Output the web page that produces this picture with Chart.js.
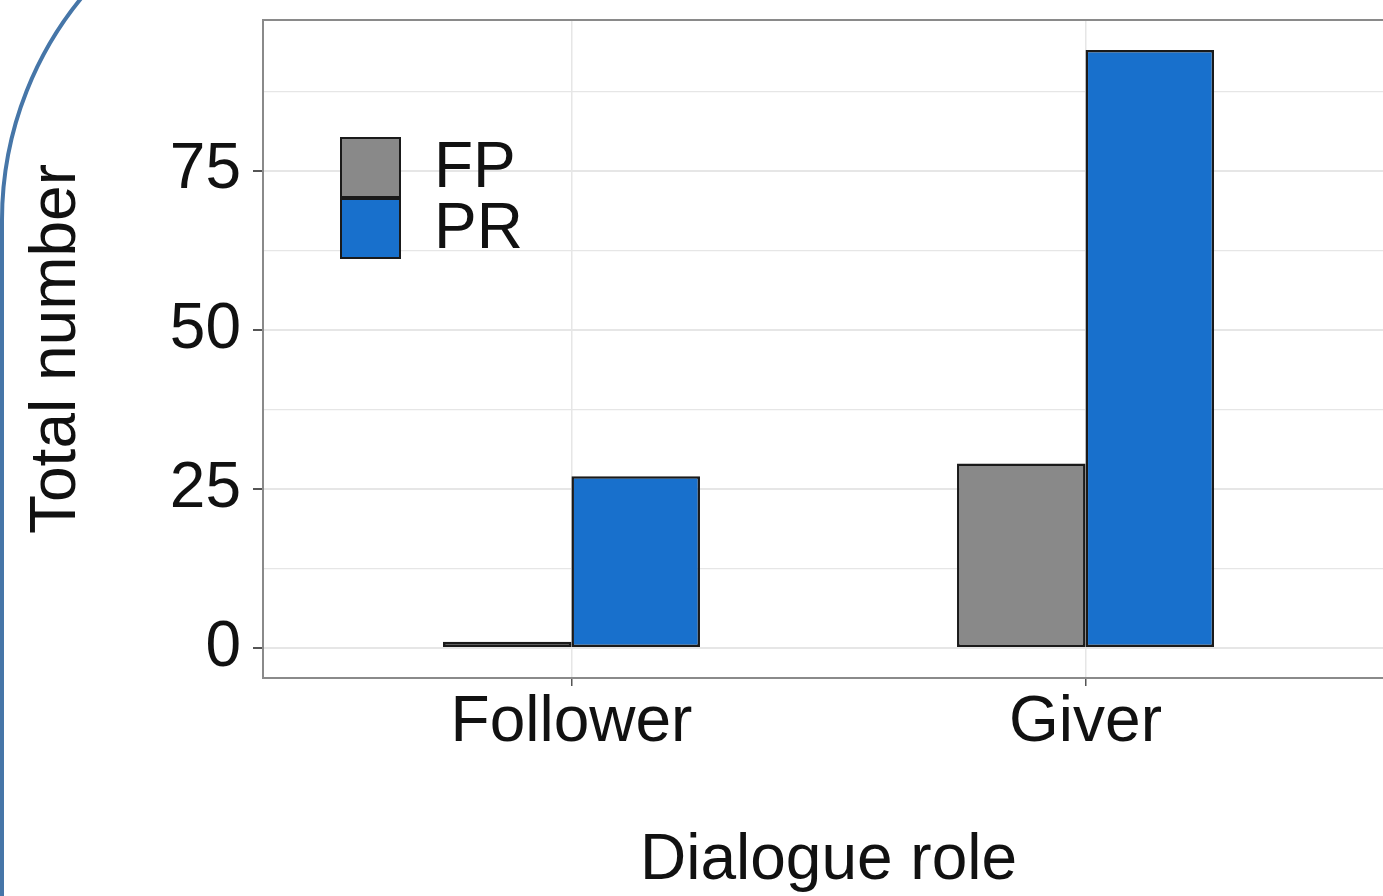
<!DOCTYPE html>
<html>
<head>
<meta charset="utf-8">
<script src="https://cdn.jsdelivr.net/npm/chart.js@4/dist/chart.umd.min.js"></script>
<style>
    html, body { margin: 0; padding: 0; background: #fff; overflow: hidden; width: 1383px; height: 896px; }
    #frame {
        position: absolute; left: 0px; top: -132px; width: 3000px; height: 3000px;
        border: 4.5px solid #4676a8; border-top-left-radius: 352px; box-sizing: border-box;
    }
    #wrap { position: absolute; left: 0; top: 0; width: 1400px; height: 896px; }
</style>
</head>
<body>
<div id="frame"></div>
<div id="wrap"><canvas id="roles"></canvas></div>
<script>
const roles = ['Follower', 'Giver'];
const fpCounts = [1, 29];
const prCounts = [27, 94];
const yTicks = [0, 12.5, 25, 37.5, 50, 62.5, 75, 87.5];

const FONT = '"Liberation Sans", Arial, sans-serif';
const SIZE = 64;

// ggplot-ish panel border and legend inside the panel
const panelExtras = {
    id: 'panelExtras',
    afterDatasetsDraw(chart) {
        const { ctx, chartArea: a } = chart;
        ctx.save();
        ctx.strokeStyle = '#8a8a8a';
        ctx.lineWidth = 2;
        ctx.strokeRect(a.left, a.top, a.right - a.left, a.bottom - a.top);

        const x = 341, size = 59;
        ctx.font = SIZE + 'px ' + FONT;
        ctx.textBaseline = 'middle';
        chart.data.datasets.forEach((ds, i) => {
            const y = 138 + i * 61;
            ctx.fillStyle = ds.backgroundColor;
            ctx.fillRect(x, y, size, size);
            ctx.strokeStyle = '#1a1a1a';
            ctx.lineWidth = 2;
            ctx.strokeRect(x, y, size, size);
            ctx.fillStyle = '#111';
            ctx.fillText(ds.label, 434, y + size / 2 + 2);
        });
        ctx.restore();
    }
};

function noPad(s) {
    s.paddingTop = 0; s.paddingBottom = 0; s.paddingLeft = 0; s.paddingRight = 0;
}

new Chart(document.getElementById('roles').getContext('2d'), {
    type: 'bar',
    data: {
        datasets: [
            { label: 'FP', data: roles.map((r, i) => ({ x: i + 1, y: fpCounts[i] })), backgroundColor: '#898989',
              borderColor: '#1a1a1a', borderWidth: 2.5, borderSkipped: false },
            { label: 'PR', data: roles.map((r, i) => ({ x: i + 1, y: prCounts[i] })), backgroundColor: '#1870cc',
              borderColor: '#1a1a1a', borderWidth: 2.5, borderSkipped: false }
        ]
    },
    options: {
        responsive: true,
        maintainAspectRatio: false,
        animation: false,
        layout: { padding: { top: 20, right: 6, left: 0, bottom: 0 } },
        categoryPercentage: 0.5,
        barPercentage: 1,
        plugins: { legend: { display: false }, tooltip: { enabled: false } },
        scales: {
            x: {
                type: 'linear', min: 0.4, max: 2.6, offset: false,
                afterBuildTicks: s => { s.ticks = roles.map((r, i) => ({ value: i + 1 })); },
                afterFit: s => { s.height = 218; noPad(s); },
                ticks: { color: '#111', padding: 5, font: { family: FONT, size: SIZE, lineHeight: 1 },
                         callback: v => roles[v - 1] },
                grid: { offset: false, color: '#e6e6e6', lineWidth: 1.5, tickLength: 8, tickColor: '#555' },
                border: { display: false },
                title: { display: true, text: 'Dialogue role', color: '#111',
                         font: { family: FONT, size: SIZE, lineHeight: 1.2 }, padding: { top: 0, bottom: -4 } }
            },
            y: {
                min: -4.7, max: 98.7,
                afterBuildTicks: s => { s.ticks = yTicks.map(v => ({ value: v })); },
                afterFit: s => { s.width = 263; noPad(s); },
                ticks: { color: '#111', padding: 12, font: { family: FONT, size: SIZE, lineHeight: 1 },
                         callback: v => (v % 25 === 0 ? v : '') },
                grid: {
                    color: '#e6e6e6',
                    lineWidth: c => (c.tick && c.tick.value % 25 === 0 ? 2 : 1.2),
                    tickLength: 10,
                    tickColor: c => (c.tick && c.tick.value % 25 === 0 ? '#555' : 'rgba(0,0,0,0)')
                },
                border: { display: false },
                title: { display: true, text: 'Total number', color: '#111',
                         font: { family: FONT, size: SIZE, lineHeight: 1.2 }, padding: { top: 19, bottom: 0 } }
            }
        }
    },
    plugins: [panelExtras]
});
</script>
</body>
</html>
